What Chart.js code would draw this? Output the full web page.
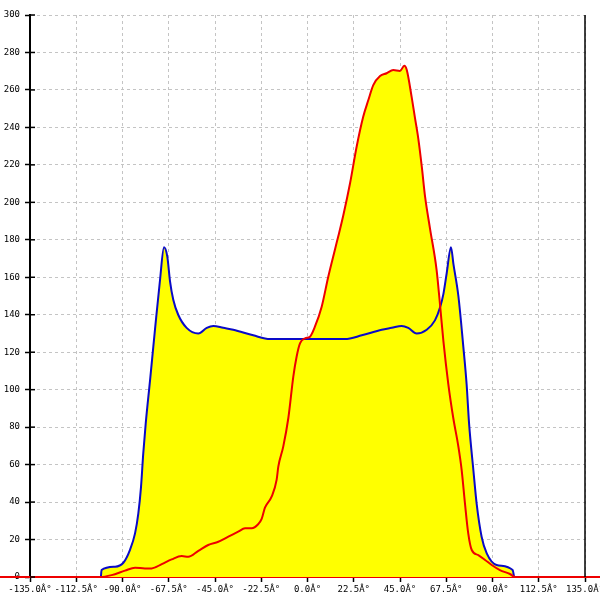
<!DOCTYPE html>
<html>
<head>
<meta charset="utf-8">
<script src="https://cdn.jsdelivr.net/npm/chart.js@4/dist/chart.umd.min.js"></script>
<style>
  html, body { margin: 0; padding: 0; background: #fff; }
  #wrap { width: 600px; height: 600px; }
</style>
</head>
<body>
<div id="wrap"><canvas id="profileChart"></canvas></div>
<script>
// angles in degrees
const blueAngles = [-100.5, -100.2, -93.6, -89.6, -86.4, -83.9, -82.3, -81.0, -79.9, -78.7, -76.6, -74.2, -71.8, -69.8, -68.2, -66.9, -65.3, -62.9, -58.8, -53.1, -49.0, -45.8, -41.0, -36.1, -26.4, -18.2, 0, 18.2, 26.4, 36.1, 41.0, 45.8, 49.0, 53.1, 58.0, 62.0, 64.5, 66.1, 67.7, 69.8, 71.0, 73.4, 75.8, 77.4, 78.6, 80.7, 82.3, 84.7, 87.2, 92.0, 99.8, 100.5]
const blueValues = [0, 3.7, 5.5, 7.6, 14.4, 23.3, 34, 48, 66, 82, 105, 132, 158, 176, 171, 158, 148, 140, 133, 130, 133, 134, 133, 132, 129, 127, 127, 127, 129, 132, 133, 134, 133, 130, 132, 137, 144, 151, 162, 176, 167, 150, 123, 103, 82, 57, 39, 21.5, 12.6, 6.4, 3.7, 0]

const redAngles = [-150, -100.9, -95.3, -88.8, -83.9, -79.1, -75.8, -70.9, -66.1, -61.2, -58.0, -53.1, -48.3, -43.4, -38.5, -33.7, -30.4, -27.2, -23.9, -22.3, -20.7, -17.4, -15.0, -14.2, -11.8, -9.3, -6.9, -5.3, -3.6, -1.2, 1.2, 3.6, 6.9, 10.1, 13.4, 15.0, 17.4, 20.7, 23.9, 27.1, 29.6, 32.0, 35.3, 38.5, 41.7, 45.0, 47.1, 48.3, 50.7, 52.3, 53.9, 55.6, 57.2, 59.6, 62.8, 64.5, 66.1, 68.5, 70.9, 73.4, 75.0, 76.6, 78.2, 79.9, 83.1, 86.4, 89.6, 93.6, 98.5, 101.0, 150]
const redValues = [0, 0, 1, 3.4, 5, 4.6, 4.6, 6.9, 9.4, 11.2, 10.8, 14, 17.1, 18.8, 21.5, 24.2, 26, 26, 28.3, 31, 37, 43, 52, 58.9, 69.6, 85, 107, 117.6, 124.8, 127.4, 128.3, 133.6, 144.3, 160.3, 175, 182, 193, 210.2, 229.7, 245.7, 254.6, 262.6, 267.4, 268.9, 270.6, 270.1, 272.9, 270.6, 256, 245, 234, 219, 203, 186, 164, 145, 126, 103, 85, 69.6, 57.1, 39.3, 23.3, 14.4, 11.7, 9.1, 6.4, 3.7, 1.6, 0, 0]

const xMin = -135, xMax = 135, xStep = 22.5
const yMin = 0, yMax = 300, yStep = 20

function toPoints(xs, ys) {
  return xs.map((x, i) => ({ x: x, y: ys[i] }))
}

const tickFont = { family: "'DejaVu Sans Mono', monospace", size: 9 }

// inner half of the y ticks and the right frame line
const framePlugin = {
  id: 'frame',
  afterDraw(chart) {
    const ctx = chart.ctx
    const area = chart.chartArea
    const ys = chart.scales.y
    ctx.save()
    ctx.strokeStyle = '#000'
    ctx.lineWidth = 1.5
    ys.ticks.forEach(t => {
      const py = ys.getPixelForValue(t.value)
      ctx.beginPath()
      ctx.moveTo(area.left, py)
      ctx.lineTo(area.left + 5, py)
      ctx.stroke()
    })
    ctx.beginPath()
    ctx.moveTo(area.right, area.top)
    ctx.lineTo(area.right, area.bottom)
    ctx.stroke()
    ctx.restore()
  }
}

new Chart(document.getElementById('profileChart').getContext('2d'), {
  type: 'line',
  data: {
    datasets: [
      {
        label: 'blue',
        data: toPoints(blueAngles, blueValues),
        borderColor: '#0a0ac8',
        backgroundColor: '#ffff00',
        borderWidth: 2,
        fill: 'origin',
        pointRadius: 0,
        cubicInterpolationMode: 'monotone',
        order: 2
      },
      {
        label: 'red',
        data: toPoints(redAngles, redValues),
        borderColor: '#ee0000',
        backgroundColor: '#ffff00',
        borderWidth: 2,
        fill: 'origin',
        pointRadius: 0,
        cubicInterpolationMode: 'monotone',
        clip: false,
        order: 1
      }
    ]
  },
  options: {
    responsive: true,
    maintainAspectRatio: false,
    animation: false,
    layout: { padding: { left: 0, right: 15, top: 15, bottom: 0 } },
    plugins: {
      legend: { display: false },
      tooltip: { enabled: false },
      filler: { drawTime: 'beforeDatasetsDraw' }
    },
    scales: {
      x: {
        type: 'linear',
        min: xMin,
        max: xMax,
        afterBuildTicks: s => {
          s.ticks = []
          for (let v = xMin; v <= xMax + 0.001; v += xStep) s.ticks.push({ value: v })
        },
        afterFit: s => { s.paddingLeft = 0; s.paddingRight = 0; s.height = 23 },
        ticks: {
          autoSkip: false,
          maxRotation: 0,
          padding: 2,
          color: '#000',
          font: tickFont,
          callback: v => v.toFixed(1) + 'Â°'
        },
        grid: { color: '#c4c4c4', lineWidth: 1, tickColor: '#000', tickLength: 5, tickWidth: 1.5 },
        border: { color: '#ee0000', width: 2, dash: [3, 3] }
      },
      y: {
        min: yMin,
        max: yMax,
        afterFit: s => { s.width = 30; s.paddingTop = 0; s.paddingBottom = 0 },
        ticks: { stepSize: yStep, padding: 5, color: '#000', font: tickFont },
        grid: { color: '#c4c4c4', lineWidth: 1, tickColor: '#000', tickLength: 5, tickWidth: 1.5 },
        border: { color: '#000', width: 2, dash: [3, 3] }
      }
    }
  },
  plugins: [framePlugin]
})
</script>
</body>
</html>
